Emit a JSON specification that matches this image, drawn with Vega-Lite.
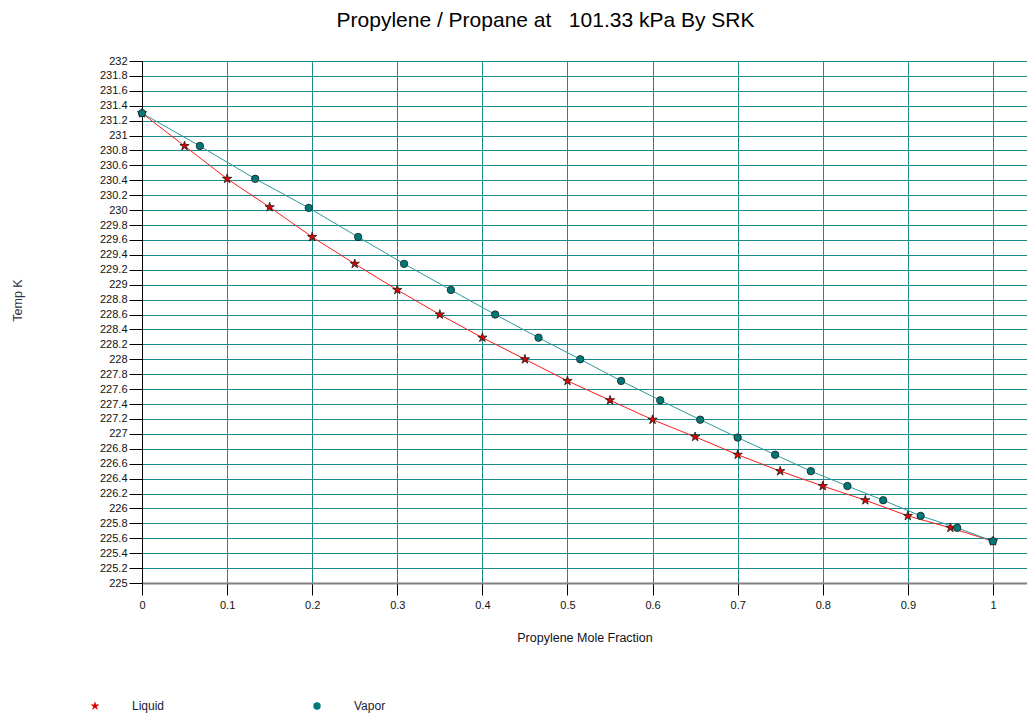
{
  "$schema": "https://vega.github.io/schema/vega-lite/v6.json",
  "width": 885,
  "height": 522,
  "autosize": {"type": "none"},
  "padding": {"left": 142, "top": 61, "right": 0, "bottom": 132},
  "background": "white",
  "title": {
    "text": "Propylene / Propane at \u00a0 101.33 kPa By SRK",
    "anchor": "middle",
    "frame": "group",
    "dx": -39,
    "dy": 7,
    "offset": 31,
    "font": "Liberation Sans",
    "fontSize": 21,
    "fontWeight": "normal",
    "color": "#000000"
  },
  "config": {
    "view": {"stroke": null},
    "font": "Liberation Sans",
    "axis": {
      "labelFont": "Liberation Sans",
      "labelFontSize": 11,
      "labelColor": "#111111",
      "labelOverlap": false,
      "titleFont": "Liberation Sans",
      "titleFontSize": 12.5,
      "titleFontWeight": "normal",
      "gridColor": "#1a8a8a",
      "gridWidth": 1,
      "gridOpacity": 1,
      "tickColor": "#000000",
      "tickWidth": 1
    },
    "legend": {
      "labelFont": "Liberation Sans",
      "labelFontSize": 12,
      "labelColor": "#1a1a33"
    }
  },
  "data": {
    "values": [
      {"phase": "Liquid", "x": 0.0, "T": 231.30},
      {"phase": "Liquid", "x": 0.05, "T": 230.86},
      {"phase": "Liquid", "x": 0.10, "T": 230.42},
      {"phase": "Liquid", "x": 0.15, "T": 230.04},
      {"phase": "Liquid", "x": 0.20, "T": 229.64},
      {"phase": "Liquid", "x": 0.25, "T": 229.28},
      {"phase": "Liquid", "x": 0.30, "T": 228.93},
      {"phase": "Liquid", "x": 0.35, "T": 228.60},
      {"phase": "Liquid", "x": 0.40, "T": 228.29},
      {"phase": "Liquid", "x": 0.45, "T": 228.00},
      {"phase": "Liquid", "x": 0.50, "T": 227.71},
      {"phase": "Liquid", "x": 0.55, "T": 227.45},
      {"phase": "Liquid", "x": 0.60, "T": 227.19},
      {"phase": "Liquid", "x": 0.65, "T": 226.96},
      {"phase": "Liquid", "x": 0.70, "T": 226.72},
      {"phase": "Liquid", "x": 0.75, "T": 226.50},
      {"phase": "Liquid", "x": 0.80, "T": 226.30},
      {"phase": "Liquid", "x": 0.85, "T": 226.11},
      {"phase": "Liquid", "x": 0.90, "T": 225.90},
      {"phase": "Liquid", "x": 0.95, "T": 225.74},
      {"phase": "Liquid", "x": 1.0, "T": 225.56},
      {"phase": "Vapor", "x": 0.0, "T": 231.30},
      {"phase": "Vapor", "x": 0.068, "T": 230.86},
      {"phase": "Vapor", "x": 0.133, "T": 230.42},
      {"phase": "Vapor", "x": 0.196, "T": 230.03},
      {"phase": "Vapor", "x": 0.254, "T": 229.64},
      {"phase": "Vapor", "x": 0.308, "T": 229.28},
      {"phase": "Vapor", "x": 0.363, "T": 228.93},
      {"phase": "Vapor", "x": 0.415, "T": 228.60},
      {"phase": "Vapor", "x": 0.466, "T": 228.29},
      {"phase": "Vapor", "x": 0.515, "T": 228.00},
      {"phase": "Vapor", "x": 0.563, "T": 227.71},
      {"phase": "Vapor", "x": 0.609, "T": 227.45},
      {"phase": "Vapor", "x": 0.656, "T": 227.19},
      {"phase": "Vapor", "x": 0.700, "T": 226.95},
      {"phase": "Vapor", "x": 0.744, "T": 226.72},
      {"phase": "Vapor", "x": 0.786, "T": 226.50},
      {"phase": "Vapor", "x": 0.829, "T": 226.30},
      {"phase": "Vapor", "x": 0.871, "T": 226.11},
      {"phase": "Vapor", "x": 0.915, "T": 225.90},
      {"phase": "Vapor", "x": 0.958, "T": 225.74},
      {"phase": "Vapor", "x": 1.0, "T": 225.56}
    ]
  },
  "encoding": {
    "x": {
      "field": "x",
      "type": "quantitative",
      "scale": {"domain": [0, 1.04], "nice": false, "zero": false},
      "axis": {
        "title": "Propylene Mole Fraction",
        "values": [0, 0.1, 0.2, 0.3, 0.4, 0.5, 0.6, 0.7, 0.8, 0.9, 1],
        "format": "~f",
        "domainColor": "#808080",
        "domainWidth": 2,
        "tickSize": 12,
        "labelPadding": 4,
        "titlePadding": 21,
        "titleColor": "#111122",
        "labelFlush": false,
        "labelOverlap": false
      }
    },
    "y": {
      "field": "T",
      "type": "quantitative",
      "scale": {"domain": [225, 232], "nice": false, "zero": false},
      "axis": {
        "title": "Temp K",
        "values": [225, 225.2, 225.4, 225.6, 225.8, 226, 226.2, 226.4, 226.6, 226.8, 227, 227.2, 227.4, 227.6, 227.8, 228, 228.2, 228.4, 228.6, 228.8, 229, 229.2, 229.4, 229.6, 229.8, 230, 230.2, 230.4, 230.6, 230.8, 231, 231.2, 231.4, 231.6, 231.8, 232],
        "format": "~f",
        "domainColor": "#000000",
        "domainWidth": 1,
        "tickSize": 13,
        "labelPadding": 2,
        "titleX": -125,
        "titleY": 239,
        "titleAlign": "center",
        "titleBaseline": "middle",
        "titleColor": "#333344",
        "labelFlush": false,
        "labelOverlap": false
      }
    }
  },
  "layer": [
    {
      "mark": {"type": "line", "strokeWidth": 1},
      "encoding": {
        "stroke": {
          "field": "phase",
          "type": "nominal",
          "scale": {"range": ["#ff1a1a", "#2a9a9a"]},
          "legend": null
        },
        "order": {"field": "x", "type": "quantitative"}
      }
    },
    {
      "mark": {"type": "point", "filled": true, "opacity": 1, "stroke": "#1a1a1a", "strokeWidth": 0.8},
      "encoding": {
        "fill": {
          "field": "phase",
          "type": "nominal",
          "scale": {"domain": ["Liquid", "Vapor"], "range": ["#e00000", "#007878"]},
          "legend": {
            "title": null,
            "orient": "none",
            "direction": "horizontal",
            "legendX": -53,
            "legendY": 639,
            "labelOffset": 31,
            "columnPadding": 146,
            "symbolStrokeColor": "#1a1a1a",
            "symbolStrokeWidth": 0.8
          }
        },
        "shape": {
          "field": "phase",
          "type": "nominal",
          "scale": {"domain": ["Liquid", "Vapor"], "range": ["M0,-1L0.2245,-0.309L0.951,-0.309L0.363,0.118L0.588,0.809L0,0.382L-0.588,0.809L-0.363,0.118L-0.951,-0.309L-0.2245,-0.309Z", "circle"]},
          "legend": {
            "title": null,
            "orient": "none",
            "direction": "horizontal",
            "legendX": -53,
            "legendY": 639,
            "labelOffset": 31,
            "columnPadding": 146,
            "symbolStrokeColor": "#1a1a1a",
            "symbolStrokeWidth": 0.8
          }
        },
        "size": {
          "field": "phase",
          "type": "nominal",
          "scale": {"domain": ["Liquid", "Vapor"], "range": [95, 55]},
          "legend": {
            "title": null,
            "orient": "none",
            "direction": "horizontal",
            "legendX": -53,
            "legendY": 639,
            "labelOffset": 31,
            "columnPadding": 146,
            "symbolStrokeColor": "#1a1a1a",
            "symbolStrokeWidth": 0.8
          }
        }
      }
    }
  ]
}
